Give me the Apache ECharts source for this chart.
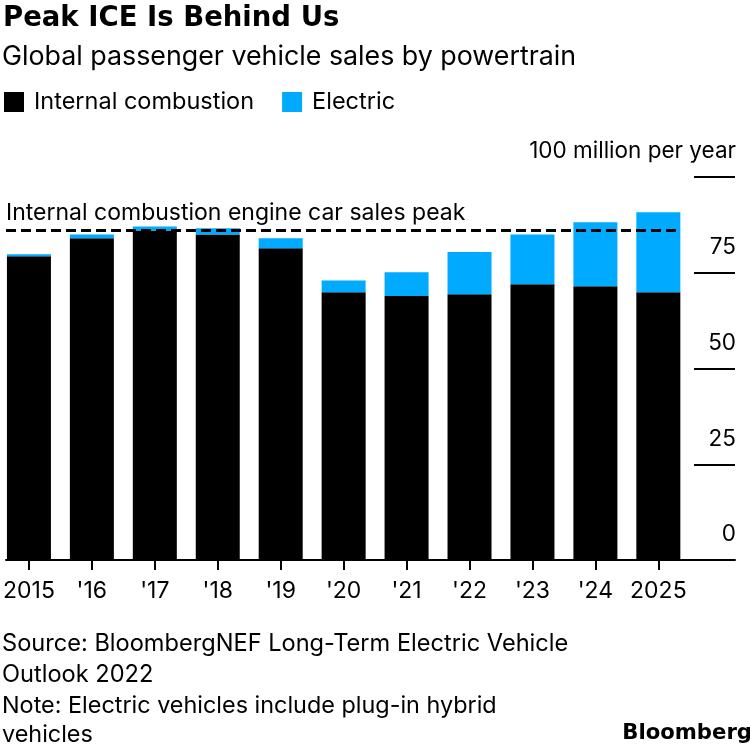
<!DOCTYPE html>
<html>
<head>
<meta charset="utf-8">
<script src="https://cdn.jsdelivr.net/npm/echarts@6/dist/echarts.min.js"></script>
<style>
html,body{margin:0;padding:0;background:#fff;}
#chart{width:750px;height:748px;}
</style>
</head>
<body>
<div id="chart"></div>
<script>
const categories = ['2015', "'16", "'17", "'18", "'19", "'20", "'21", "'22", "'23", "'24", '2025'];
const iceValues = [79.3, 84.0, 86.0, 85.0, 81.4, 69.9, 68.9, 69.4, 72.0, 71.5, 69.9];
const evValues  = [0.5, 1.0, 1.1, 1.6, 2.6, 3.1, 6.2, 11.0, 13.0, 16.7, 20.9];
const yTicks = [0, 25, 50, 75, 100];
const peakValue = Math.max(...iceValues);

const FONT = 'Inter';
const BOLD = 'DejaVu Sans';
const BLUE = '#00aaff';
const idx = categories.map((c, i) => i);
const xMin = -0.364, xMax = 11.218;
const halfBar = 0.35;

const chart = echarts.init(document.getElementById('chart'), null, {renderer: 'canvas'});
chart.setOption({
  animation: false,
  backgroundColor: '#fff',
  textStyle: {fontFamily: FONT, color: '#000'},
  title: [
    {text: 'Peak ICE Is Behind Us', left: 3, top: 5, padding: 0,
     textStyle: {fontFamily: BOLD, fontSize: 27.5, fontWeight: 'bold', color: '#000'}},
    {text: 'Global passenger vehicle sales by powertrain', left: 2, top: 43, padding: 0,
     textStyle: {fontFamily: FONT, fontSize: 26.8, fontWeight: 'normal', color: '#000'}},
    {text: 'Source: BloombergNEF Long-Term Electric Vehicle\nOutlook 2022', left: 2, top: 628, padding: 0,
     textStyle: {fontFamily: FONT, fontSize: 23.6, fontWeight: 'normal', color: '#000', lineHeight: 31}},
    {text: 'Note: Electric vehicles include plug-in hybrid\nvehicles', left: 2, top: 691, padding: 0,
     textStyle: {fontFamily: FONT, fontSize: 23.4, fontWeight: 'normal', color: '#000', lineHeight: 29}},
    {text: 'Bloomberg', right: -2, top: 723, padding: 0,
     textStyle: {fontFamily: BOLD, fontSize: 21.2, fontWeight: 'bold', color: '#000'}}
  ],
  legend: {
    left: 4, top: 90, padding: 0, itemWidth: 20, itemHeight: 20, itemGap: 28, icon: 'rect',
    textStyle: {fontFamily: FONT, fontSize: 23.5, color: '#000', padding: [0, 0, 0, 5]},
    data: ['Internal combustion', 'Electric']
  },
  grid: {left: 3, right: 15, top: 177, bottom: 188, containLabel: false},
  xAxis: {
    type: 'value', min: xMin, max: xMax,
    splitLine: {show: false},
    axisLine: {show: true, onZero: false, lineStyle: {color: '#000', width: 2}},
    axisTick: {show: true, length: 10, lineStyle: {color: '#000', width: 2}, customValues: idx},
    axisLabel: {show: true, customValues: idx, formatter: v => categories[Math.round(v)],
      fontFamily: FONT, fontSize: 23, color: '#000', margin: 20}
  },
  yAxis: {
    type: 'value', position: 'right', min: 0, max: 100, interval: 25,
    splitLine: {show: false},
    axisLine: {show: false, onZero: false},
    axisTick: {show: true, inside: true, length: 41, lineStyle: {color: '#000', width: 2}},
    axisLabel: {show: true, inside: true, margin: -1, verticalAlign: 'bottom', padding: [0, 0, 14, 0],
      fontFamily: FONT, fontSize: 22.5, color: '#000',
      formatter: v => v === 100 ? '100 million per year' : String(v)}
  },
  series: [
    {name: 'Internal combustion', type: 'bar', stack: 'total', barWidth: 44,
     itemStyle: {color: '#000'},
     encode: {x: 1, y: 0},
     data: iceValues.map((v, i) => [v, i]),
     markLine: {
       symbol: 'none', silent: true,
       lineStyle: {color: '#000', type: [10, 5], width: 3},
       label: {show: true, position: 'insideStartTop', formatter: 'Internal combustion engine car sales peak',
         fontFamily: FONT, fontSize: 23, color: '#000', distance: [0, 6]},
       data: [[{coord: [xMin, peakValue]}, {coord: [categories.length - 1 + halfBar, peakValue]}]]
     }},
    {name: 'Electric', type: 'bar', stack: 'total', barWidth: 44,
     itemStyle: {color: BLUE},
     encode: {x: 1, y: 0},
     data: evValues.map((v, i) => [v, i])}
  ]
});
</script>
</body>
</html>
